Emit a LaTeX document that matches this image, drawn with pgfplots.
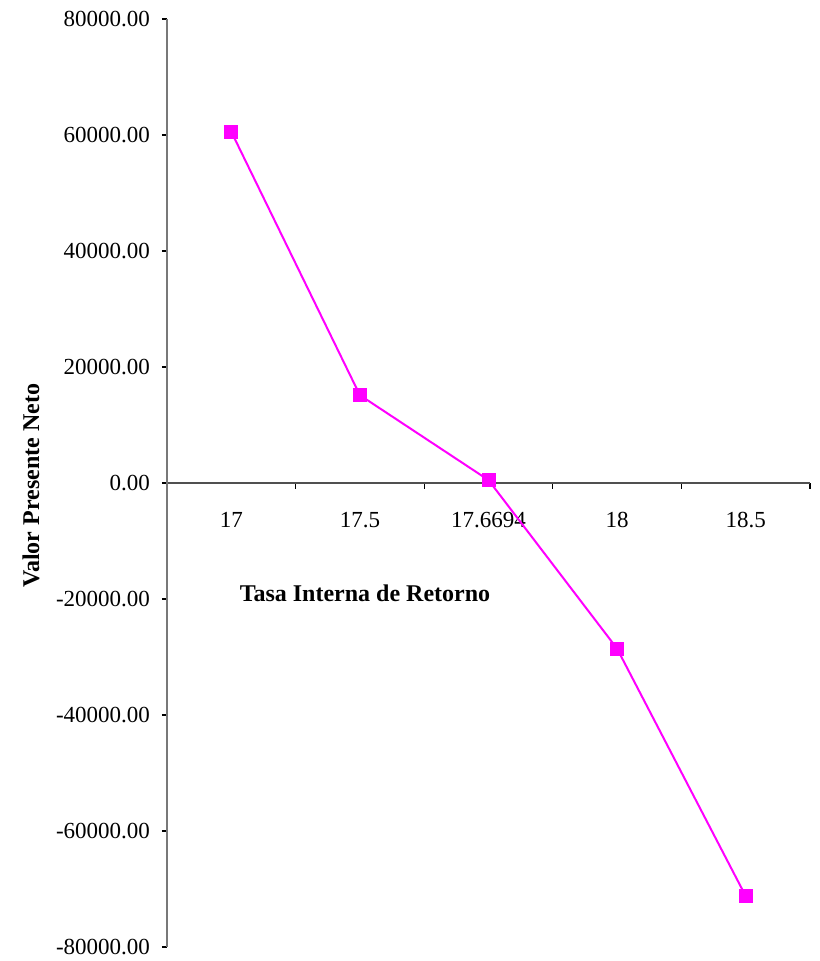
\documentclass[border=0pt]{standalone}
\usepackage{fontspec}
\setmainfont{Liberation Serif}
\usepackage{pgfplots}
\pgfplotsset{compat=1.18}

\definecolor{npvline}{RGB}{255,0,255}
\definecolor{yaxisgray}{RGB}{120,120,120}
\definecolor{xaxisgray}{RGB}{80,80,80}

\begin{document}
\begin{tikzpicture}[x=1pt,y=1pt]
% picture frame (1px = 0.5pt)
\useasboundingbox (-83.5,-7) rectangle (326,473.5);
\begin{axis}[
  at={(0,0)}, anchor=south west,
  scale only axis,
  width=321.5pt, height=464pt,
  xmin=-0.5, xmax=4.5,
  ymin=-80000, ymax=80000,
  axis y line*=left,
  axis x line*=middle,
  y axis line style={yaxisgray, line width=0.8pt},
  x axis line style={xaxisgray, line width=0.7pt},
  /pgf/number format/assume math mode=true,
  xtick={0,1,2,3,4},
  xticklabels={17,17.5,17.6694,18,18.5},
  major x tick style={draw=none},
  minor xtick={-0.5,0.5,1.5,2.5,3.5,4.5},
  minor x tick style={black, line width=0.6pt},
  minor tick length=3pt,
  tick align=outside,
  xticklabel style={font=\fontsize{11.5}{13}\selectfont, anchor=base, yshift=-19.5pt},
  ytick={-80000,-60000,-40000,-20000,0,20000,40000,60000,80000},
  yticklabels={-80000.00,-60000.00,-40000.00,-20000.00,0.00,20000.00,40000.00,60000.00,80000.00},
  major y tick style={black, line width=0.6pt},
  major tick length=2.5pt,
  yticklabel style={font=\fontsize{11.5}{13}\selectfont, anchor=east, xshift=-2.5pt, inner ysep=0pt},
  clip=false,
]
\addplot[npvline, line width=1pt, mark=square*, mark size=3pt,
  mark options={fill=npvline, draw=npvline}]
  coordinates {
    (0, 60560)
    (1, 15140)
    (2, 500)
    (3, -28560)
    (4, -71220)
  };
\node[font=\bfseries\fontsize{12}{14}\selectfont, anchor=base]
  at (rel axis cs:0.3079,0.3728) {Tasa Interna de Retorno};
\node[font=\bfseries\fontsize{12}{14}\selectfont, rotate=90, anchor=center]
  at (rel axis cs:-0.2115,0.4968) {Valor Presente Neto};
\end{axis}
\end{tikzpicture}
\end{document}
